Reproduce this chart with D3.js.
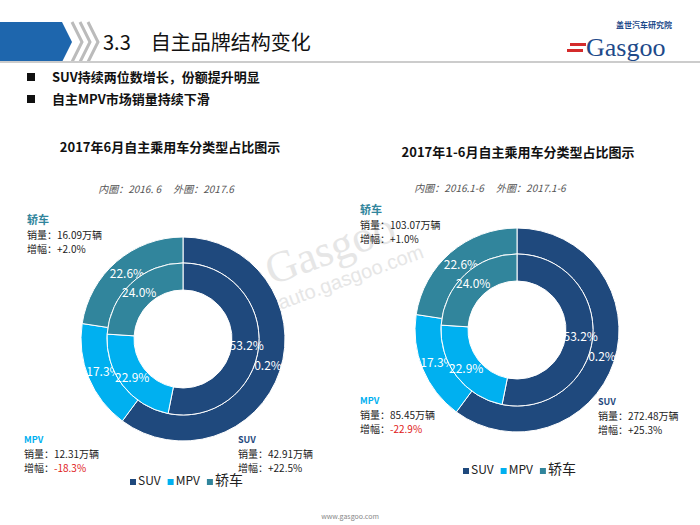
<!DOCTYPE html>
<html><head><meta charset="utf-8">
<script src="https://cdn.jsdelivr.net/npm/d3@7.9.0/dist/d3.min.js"></script>
<style>body{margin:0;background:#fff}svg{display:block;font-family:"Noto Sans CJK SC","DejaVu Sans",sans-serif}</style>
</head><body><svg id="c" width="700" height="525"></svg>
<script>
const categories = ["SUV", "MPV", "轿车"];
const colors = ["#1f497d", "#00b0f0", "#31859c"];
const innerJune = [53.2, 22.9, 24.0];
const outerJune = [60.2, 17.3, 22.6];
const innerH1 = [53.2, 22.9, 24.0];
const outerH1 = [60.2, 17.3, 22.6];
const salesJune = ["42.91", "12.31", "16.09"];
const growthJune = ["+22.5%", "-18.3%", "+2.0%"];
const salesH1 = ["272.48", "85.45", "103.07"];
const growthH1 = ["+25.3%", "-22.9%", "+1.0%"];

const svg = d3.select("#c");

// header
svg.append("path").attr("d", "M0,22 H62 L72,42 L62,62 H0 Z").attr("fill", "#1e66ad");
[72, 80, 88].forEach(x => svg.append("path")
  .attr("d", `M${x},22 L${x+10},42 L${x},62`).attr("fill", "none").attr("stroke", "#bbb").attr("stroke-width", 3));
svg.append("text").attr("x", 103).attr("y", 50).attr("font-size", 20).attr("fill", "#111")
  .text("3.3\u2003自主品牌结构变化");
svg.append("line").attr("x1", 0).attr("x2", 700).attr("y1", 62).attr("y2", 62).attr("stroke", "#ccc").attr("stroke-width", 2);
svg.append("text").attr("x", 616).attr("y", 28).attr("font-size", 8).attr("fill", "#1e4a8a").attr("font-weight", "bold").text("盖世汽车研究院");
svg.append("text").attr("x", 586).attr("y", 56).attr("font-size", 26).attr("fill", "#1e4a8a")
  .attr("font-family", "Liberation Serif").text("Gasgoo");
svg.append("rect").attr("x", 570).attr("y", 43).attr("width", 16).attr("height", 3).attr("fill", "#d42b2b");
svg.append("rect").attr("x", 567).attr("y", 49).attr("width", 16).attr("height", 3).attr("fill", "#d42b2b");

const bullets = ["SUV持续两位数增长，份额提升明显", "自主MPV市场销量持续下滑"];
bullets.forEach((b, i) => {
  svg.append("rect").attr("x", 27).attr("y", 73 + i * 22).attr("width", 8).attr("height", 8).attr("fill", "#111");
  svg.append("text").attr("x", 52).attr("y", 82 + i * 22).attr("font-size", 13).attr("font-weight", "bold").attr("fill", "#111").text(b);
});

// watermark
const wm = svg.append("g").attr("transform", "translate(300,275) rotate(-20)").attr("fill", "#e6e6e6");
wm.append("text").attr("x", -30).attr("y", 0).attr("font-size", 44).attr("font-family", "Liberation Serif").text("Gasgoo");
wm.append("text").attr("x", -30).attr("y", 26).attr("font-size", 20).attr("font-family", "Liberation Sans").text("auto.gasgoo.com");

svg.append("text").attr("x", 350).attr("y", 519).attr("text-anchor", "middle").attr("font-size", 7).attr("fill", "#888").text("www.gasgoo.com");

function donut(o) {
  const g = svg.append("g");
  g.append("text").attr("x", o.tx).attr("y", o.ty).attr("text-anchor", "middle").attr("font-size", 13).attr("font-weight", "bold").attr("fill", "#111").text(o.title);
  g.append("text").attr("x", o.sx).attr("y", o.sy).attr("text-anchor", "middle").attr("font-size", 10).attr("font-style", "italic").attr("fill", "#555").text(o.sub);
  const pie = d3.pie().sort(null).value(d => d);
  const c = g.append("g").attr("transform", `translate(${o.cx},${o.cy})`);
  const rings = [
    { data: o.outer, arc: d3.arc().innerRadius(76).outerRadius(102), lab: d3.arc().innerRadius(86).outerRadius(86) },
    { data: o.inner, arc: d3.arc().innerRadius(49).outerRadius(76), lab: d3.arc().innerRadius(64).outerRadius(64) }
  ];
  rings.forEach(r => {
    const arcs = pie(r.data);
    c.selectAll(null).data(arcs).join("path").attr("d", r.arc)
      .attr("fill", (d, i) => colors[i]).attr("stroke", "#fff").attr("stroke-width", 1);
    c.selectAll(null).data(arcs).join("text")
      .attr("transform", d => `translate(${r.lab.centroid(d)})`)
      .attr("text-anchor", "middle").attr("dy", "0.35em").attr("font-size", 12).attr("fill", "#fff")
      .text(d => d.data.toFixed(1) + "%");
  });
  o.ann.forEach((a, i) => {
    const t = g.append("g").attr("font-size", 10).attr("fill", "#222");
    t.append("text").attr("x", a[0]).attr("y", a[1]).attr("font-weight", "bold").attr("font-size", i == 2 ? 11 : 9).attr("fill", colors[i]).text(categories[i]);
    t.append("text").attr("x", a[0]).attr("y", a[1] + 15).text("销量：" + o.sales[i] + "万辆");
    const gt = t.append("text").attr("x", a[0]).attr("y", a[1] + 29);
    gt.append("tspan").text("增幅：");
    gt.append("tspan").attr("fill", o.growth[i][0] === "-" ? "#e02020" : "#222").text(o.growth[i]);
  });
  const lg = g.append("g").attr("transform", `translate(${o.lx},${o.ly})`);
  let x = 0;
  categories.forEach((k, i) => {
    lg.append("rect").attr("x", x).attr("y", -6).attr("width", 6).attr("height", 6).attr("fill", colors[i]);
    const tt = lg.append("text").attr("x", x + 8).attr("y", 0).attr("font-size", i == 2 ? 14 : 12).attr("fill", "#222").text(k);
    x += 8 + tt.node().getComputedTextLength() + 7;
  });
}

donut({ title: "2017年6月自主乘用车分类型占比图示", tx: 170, ty: 152, sub: "内圈：2016. 6　 外圈：2017.6", sx: 166, sy: 193,
  cx: 183, cy: 339, outer: outerJune, inner: innerJune, sales: salesJune, growth: growthJune,
  ann: [[238, 443], [24, 443], [27, 224]], lx: 130, ly: 485 });
donut({ title: "2017年1-6月自主乘用车分类型占比图示", tx: 518, ty: 157, sub: "内圈：2016.1-6　 外圈：2017.1-6", sx: 490, sy: 192,
  cx: 517, cy: 330, outer: outerH1, inner: innerH1, sales: salesH1, growth: growthH1,
  ann: [[598, 405], [360, 404], [360, 214]], lx: 463, ly: 474 });
</script></body></html>
